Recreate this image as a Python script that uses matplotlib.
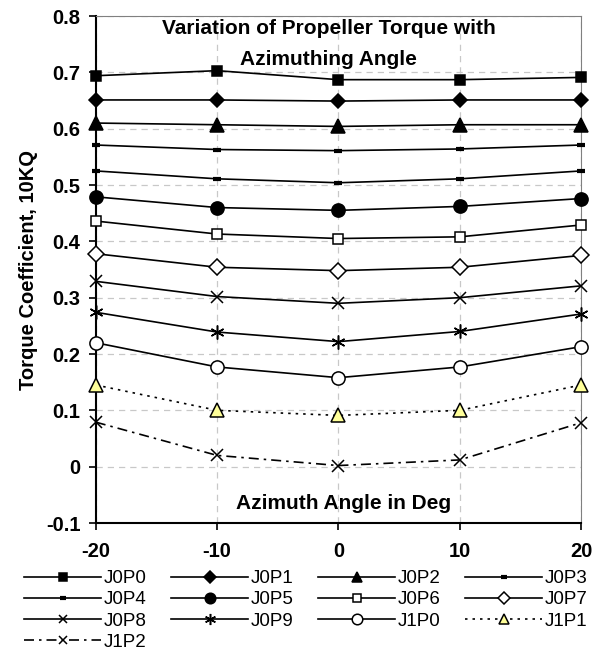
import matplotlib.pyplot as plt

plt.rcParams['font.family'] = ['Liberation Sans', 'DejaVu Sans']
plt.rcParams['axes.unicode_minus'] = False

# azimuth angle (deg)
angles = [-20, -10, 0, 10, 20]

# torque coefficient 10KQ per series
j0p0 = [0.694, 0.703, 0.687, 0.687, 0.691]
j0p1 = [0.651, 0.651, 0.649, 0.651, 0.651]
j0p2 = [0.610, 0.607, 0.604, 0.607, 0.607]
j0p3 = [0.571, 0.563, 0.561, 0.564, 0.571]
j0p4 = [0.525, 0.511, 0.504, 0.511, 0.525]
j0p5 = [0.479, 0.460, 0.455, 0.462, 0.476]
j0p6 = [0.436, 0.413, 0.405, 0.408, 0.429]
j0p7 = [0.378, 0.354, 0.348, 0.354, 0.375]
j0p8 = [0.329, 0.302, 0.290, 0.300, 0.321]
j0p9 = [0.274, 0.239, 0.222, 0.240, 0.271]
j1p0 = [0.220, 0.177, 0.158, 0.177, 0.213]
j1p1 = [0.145, 0.100, 0.091, 0.100, 0.145]
j1p2 = [0.079, 0.020, 0.002, 0.012, 0.078]

series_names = ["J0P0", "J0P1", "J0P2", "J0P3", "J0P4", "J0P5", "J0P6",
                "J0P7", "J0P8", "J0P9", "J1P0", "J1P1", "J1P2"]
series_vals = [j0p0, j0p1, j0p2, j0p3, j0p4, j0p5, j0p6,
               j0p7, j0p8, j0p9, j1p0, j1p1, j1p2]

yticks = [-0.1, 0, 0.1, 0.2, 0.3, 0.4, 0.5, 0.6, 0.7, 0.8]
ytick_labels = ["-0.1", "0", "0.1", "0.2", "0.3", "0.4", "0.5", "0.6", "0.7", "0.8"]

# marker, size, face colour, linestyle
styles = [
    dict(marker='s', ms=7.5, mfc='black', ls='-'),
    dict(marker='D', ms=7.5, mfc='black', ls='-'),
    dict(marker='^', ms=9.5, mfc='black', ls='-'),
    dict(marker='_', ms=6, mfc='black', ls='-', mew=3),
    dict(marker='_', ms=6, mfc='black', ls='-', mew=3),
    dict(marker='o', ms=9.5, mfc='black', ls='-'),
    dict(marker='s', ms=7, mfc='white', ls='-'),
    dict(marker='D', ms=8, mfc='white', ls='-'),
    dict(marker='x', ms=8, mfc='black', ls='-'),
    dict(marker=(6, 2, 0), ms=10, mfc='black', ls='-'),
    dict(marker='o', ms=9.5, mfc='white', ls='-'),
    dict(marker='^', ms=9.5, mfc='#FFFF99', ls=(0, (1.5, 3))),
    dict(marker='x', ms=8, mfc='black', ls=(0, (6, 3, 1.5, 3))),
]

fig = plt.figure(figsize=(5.99, 6.51), dpi=100)
ax = fig.add_axes([0.160, 0.1966, 0.810, 0.7788])

handles = []
for name, vals, st in zip(series_names, series_vals, styles):
    st = dict(st)
    mew = st.pop('mew', 1.1)
    h, = ax.plot(angles, vals, color='black', lw=1.2, mec='black', mew=mew,
                 clip_on=False, label=name, zorder=3, **st)
    handles.append(h)

ax.set_xlim(-20, 20)
ax.set_ylim(-0.1, 0.8)
ax.set_xticks(angles)
ax.set_yticks(yticks)
ax.set_yticklabels(ytick_labels)
ax.grid(True, color='#c8c8c8', ls=(0, (5, 4)), lw=0.9)
ax.set_axisbelow(True)

for lab in ax.get_xticklabels() + ax.get_yticklabels():
    lab.set_fontweight('bold')
ax.tick_params(axis='both', labelsize=14.5, direction='out', length=5, width=1.2)
ax.tick_params(axis='x', pad=9)
ax.tick_params(axis='y', pad=6)

ax.spines['left'].set_linewidth(1.5)
ax.spines['bottom'].set_linewidth(1.5)
ax.spines['top'].set_color('#808080')
ax.spines['right'].set_color('#808080')
ax.spines['top'].set_linewidth(0.8)
ax.spines['right'].set_linewidth(0.8)

ax.set_ylabel("Torque Coefficient, 10KQ", fontsize=14.5, fontweight='bold', labelpad=6)
ax.text(-0.8, 0.794, "Variation of Propeller Torque with\nAzimuthing Angle",
        ha='center', va='top', fontsize=15, fontweight='bold', linespacing=1.75)
ax.text(0.4, -0.066, "Azimuth Angle in Deg", ha='center', va='center',
        fontsize=15, fontweight='bold')

# legend order: row-wise in 4 columns
order = [0, 4, 8, 12, 1, 5, 9, 2, 6, 10, 3, 7, 11]
fig.legend([handles[i] for i in order], [series_names[i] for i in order],
           loc='upper left', bbox_to_anchor=(0.028, 0.136), ncol=4,
           frameon=False, fontsize=13.5, handlelength=4.1, handletextpad=0.15,
           columnspacing=1.3, labelspacing=0.22, borderaxespad=0,
           markerscale=0.8)

fig.savefig("out.png", dpi=100)
